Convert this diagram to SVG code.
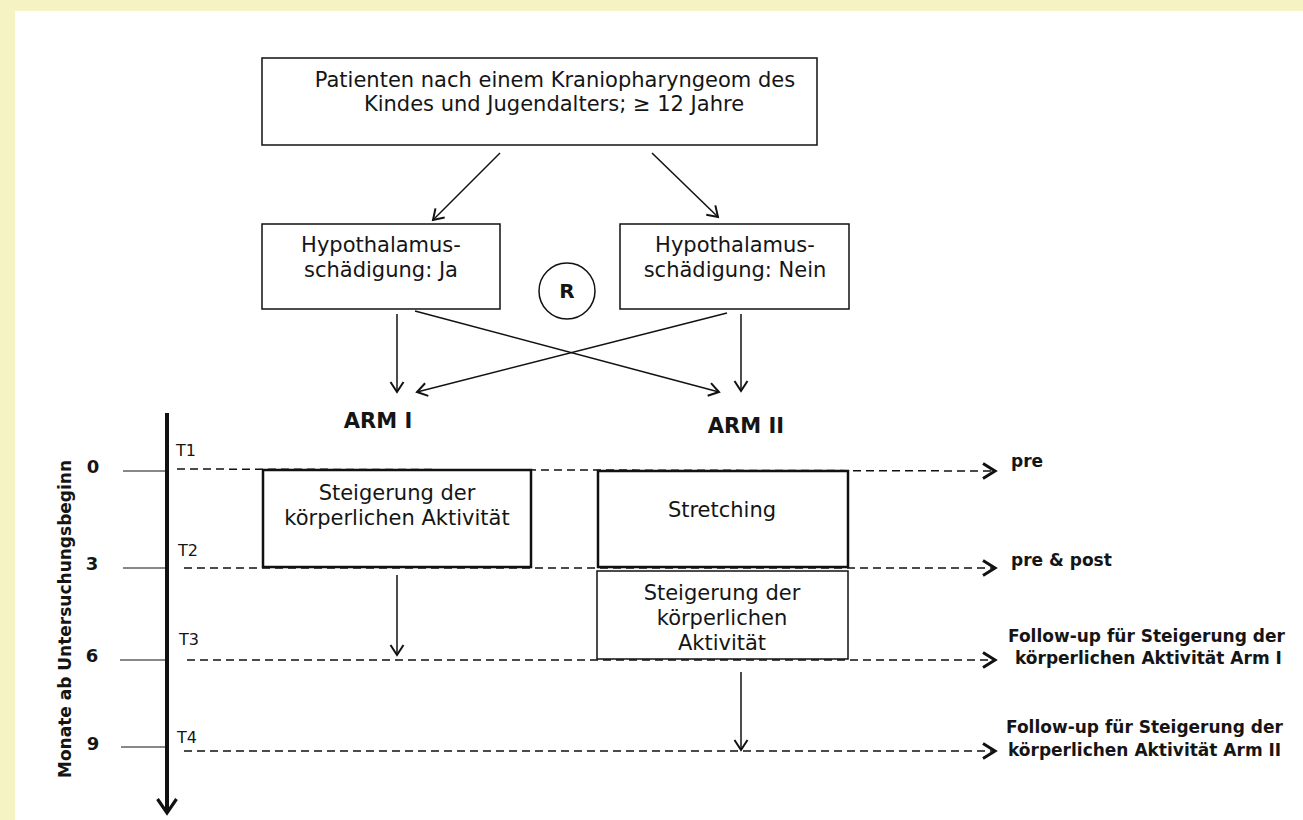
<svg xmlns="http://www.w3.org/2000/svg" width="1303" height="820" viewBox="0 0 1303 820">
<defs>
<style>
.t{font-family:"DejaVu Sans","Liberation Sans",sans-serif;font-size:21px;fill:#151515;text-anchor:middle}
.b{font-family:"DejaVu Sans","Liberation Sans",sans-serif;font-weight:bold;fill:#151515}
.lab{font-size:17px}
.tl{font-family:"DejaVu Sans","Liberation Sans",sans-serif;font-size:16px;fill:#151515}
.box{fill:#fff;stroke:#111;stroke-width:1.5}
.thick{fill:#fff;stroke:#111;stroke-width:2.5}
.ln{stroke:#111;stroke-width:1.5;fill:none}
.dash{stroke:#111;stroke-width:1.5;stroke-dasharray:8,5;fill:none}
.tk{stroke:#111;stroke-width:1;fill:none}
</style>
<marker id="ah" markerWidth="16" markerHeight="16" refX="12" refY="8" orient="auto" markerUnits="userSpaceOnUse">
<path d="M2,1.5 L12,8 L2,14.5" fill="none" stroke="#111" stroke-width="2"/>
</marker>
<marker id="ahb" markerWidth="22" markerHeight="24" refX="17" refY="12" orient="auto" markerUnits="userSpaceOnUse">
<path d="M3,2.5 L17,12 L3,21.5" fill="none" stroke="#111" stroke-width="3.2"/>
</marker>
<marker id="ahd" markerWidth="18" markerHeight="20" refX="15" refY="10" orient="auto" markerUnits="userSpaceOnUse">
<path d="M3,2.5 L15,10 L3,17.5" fill="none" stroke="#111" stroke-width="3"/>
</marker>
</defs>
<rect x="0" y="0" width="1303" height="820" fill="#F5F2C3"/>
<rect x="15" y="11" width="1288" height="809" fill="#fff"/>

<g id="connectors">
<line class="ln" x1="500" y1="153" x2="433" y2="220" marker-end="url(#ah)"/>
<line class="ln" x1="652" y1="153" x2="718" y2="217" marker-end="url(#ah)"/>
<line class="ln" x1="397" y1="314" x2="397" y2="392" marker-end="url(#ah)"/>
<line class="ln" x1="741" y1="314" x2="741" y2="391" marker-end="url(#ah)"/>
<line class="ln" x1="415" y1="311" x2="719" y2="392" marker-end="url(#ah)"/>
<line class="ln" x1="727" y1="313" x2="417" y2="392" marker-end="url(#ah)"/>
<line class="ln" x1="397" y1="575" x2="397" y2="655" marker-end="url(#ah)"/>
<line class="ln" x1="741" y1="672" x2="741" y2="750" marker-end="url(#ah)"/>
<line class="dash" x1="177" y1="469" x2="995" y2="471" marker-end="url(#ahd)"/>
<line class="dash" x1="184" y1="568" x2="995" y2="568" marker-end="url(#ahd)"/>
<line class="dash" x1="187" y1="660" x2="995" y2="660" marker-end="url(#ahd)"/>
<line class="dash" x1="184" y1="751" x2="995" y2="751" marker-end="url(#ahd)"/>
</g>

<g id="patients">
<rect class="box" x="262" y="58" width="555" height="87"/>
<text class="t" x="555" y="87">Patienten nach einem Kraniopharyngeom des</text>
<text class="t" x="554" y="111">Kindes und Jugendalters; ≥ 12 Jahre</text>
</g>
<g id="hypo-ja">
<rect class="box" x="262" y="224" width="238" height="85"/>
<text class="t" x="381" y="252">Hypothalamus-</text>
<text class="t" x="381" y="277">schädigung: Ja</text>
</g>
<g id="hypo-nein">
<rect class="box" x="620" y="224" width="229" height="85"/>
<text class="t" x="735" y="252">Hypothalamus-</text>
<text class="t" x="735" y="277">schädigung: Nein</text>
</g>
<g id="random">
<circle cx="567" cy="291" r="28" fill="#fff" stroke="#111" stroke-width="1.5"/>
<text class="b" x="567" y="298" font-size="20" text-anchor="middle">R</text>
</g>
<g id="arm1-label"><text class="b" x="378" y="428" font-size="21" text-anchor="middle">ARM I</text></g>
<g id="arm2-label"><text class="b" x="746" y="433" font-size="21" text-anchor="middle">ARM II</text></g>

<g id="arm1-box">
<rect class="thick" x="263" y="470" width="268" height="97"/>
<text class="t" x="397" y="500">Steigerung der</text>
<text class="t" x="397" y="525">körperlichen Aktivität</text>
</g>
<g id="stretching">
<rect class="thick" x="598" y="471" width="250" height="96"/>
<text class="t" x="722" y="517">Stretching</text>
</g>
<g id="arm2-box">
<rect class="box" x="597" y="571" width="251" height="88"/>
<text class="t" x="722" y="600">Steigerung der</text>
<text class="t" x="722" y="625">körperlichen</text>
<text class="t" x="722" y="650">Aktivität</text>
</g>

<g id="timeline">
<line x1="167" y1="413" x2="167" y2="813" stroke="#111" stroke-width="4" marker-end="url(#ahb)"/>
<line class="tk" x1="123" y1="471" x2="167" y2="471"/>
<line class="tk" x1="123" y1="568" x2="167" y2="568"/>
<line class="tk" x1="120" y1="660" x2="167" y2="660"/>
<line class="tk" x1="121" y1="747" x2="167" y2="747"/>
<text class="b" x="93" y="473" font-size="18" text-anchor="middle">0</text>
<text class="b" x="92" y="570" font-size="18" text-anchor="middle">3</text>
<text class="b" x="92" y="662" font-size="18" text-anchor="middle">6</text>
<text class="b" x="93" y="750" font-size="18" text-anchor="middle">9</text>
<text class="tl" x="176" y="456">T1</text>
<text class="tl" x="178" y="556">T2</text>
<text class="tl" x="179" y="645">T3</text>
<text class="tl" x="177" y="743">T4</text>
<text class="b lab" text-anchor="middle" transform="translate(71,619) rotate(-90)">Monate ab Untersuchungsbeginn</text>
</g>

<g id="labels">
<text class="b lab" x="1011" y="467">pre</text>
<text class="b lab" x="1011" y="566">pre &amp; post</text>
<text class="b lab" x="1008" y="642">Follow-up für Steigerung der</text>
<text class="b lab" x="1015" y="664">körperlichen Aktivität Arm I</text>
<text class="b lab" x="1006" y="733">Follow-up für Steigerung der</text>
<text class="b lab" x="1008" y="756">körperlichen Aktivität Arm II</text>
</g>
</svg>
